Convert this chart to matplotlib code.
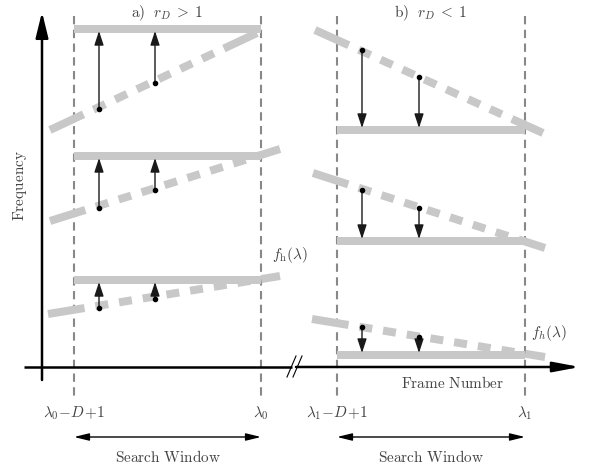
import numpy as np
import matplotlib.pyplot as plt

plt.rcParams['mathtext.fontset'] = 'cm'
plt.rcParams['font.family'] = ['DejaVu Serif']

# --- diagram geometry (pixel space of the original figure, y downwards) ---
win_a = [74, 261]          # search window, panel a
win_b = [337, 525]         # search window, panel b
arrow_x_a = [99, 155]
arrow_x_b = [362, 419]

# horizontal (target) lines per row
target_y_a = [29, 156, 280]
target_y_b = [130, 241, 355]

# sloped dashed trend lines: (x0, y0, x1, y1)
trend_a = [(50, 130, 257, 33), (50, 221, 280, 149), (48, 314, 280, 276)]
trend_b = [(315, 30, 543, 133), (313, 173, 545, 248), (312, 319, 545, 357)]

# arrow start points (dots) per row, one per arrow_x
start_y_a = [[109, 83], [208, 190], [308, 299]]
start_y_b = [[50, 77], [190, 208], [327, 337]]

win_labels_a = [r'$\lambda_0\!-\!D\!+\!1$', r'$\lambda_0$']
win_labels_b = [r'$\lambda_1\!-\!D\!+\!1$', r'$\lambda_1$']

GRAY = '#c8c8c8'
TXT = '#444444'
PX = 0.72  # points per pixel at dpi 100

fig = plt.figure(figsize=(5.94, 4.67), dpi=100)
ax = fig.add_axes([0, 0, 1, 1])
ax.set_xlim(0, 594)
ax.set_ylim(467, 0)
ax.axis('off')

band_lw = 8 * PX


def dash_seq(length, lw, first=37, dash=13, gap=11, min_last=18):
    # long dash at both ends, regular dashes in between
    seq = [first]
    rest = length - first
    while rest > gap + dash + gap + min_last:
        seq += [gap, dash]
        rest -= gap + dash
    seq += [gap, rest - gap + 5, 50]
    return (0, tuple(v * PX / lw for v in seq))


def panel(win, targets, trends, arrow_x, starts, labels, title):
    # window boundaries
    for x in win:
        ax.plot([x, x], [16, 400], color='#888888', lw=1.5,
                linestyle=(0, (4, 2.6)), zorder=1)
    for ty, tr, sy in zip(targets, trends, starts):
        ax.plot(win, [ty, ty], color=GRAY, lw=band_lw,
                solid_capstyle='butt', zorder=2)
        seg_len = np.hypot(tr[2] - tr[0], tr[3] - tr[1])
        ax.plot([tr[0], tr[2]], [tr[1], tr[3]], color=GRAY, lw=band_lw,
                dash_capstyle='butt', linestyle=dash_seq(seg_len, band_lw),
                zorder=2)
        for x, y0 in zip(arrow_x, sy):
            ax.annotate('', xy=(x, ty + (2 if y0 > ty else -2)), xytext=(x, y0),
                        arrowprops=dict(arrowstyle='-|>,head_length=0.85,head_width=0.28',
                                        color='#1a1a1a', lw=1.0, mutation_scale=10,
                                        shrinkA=0, shrinkB=0), zorder=4)
            ax.plot(x, y0, 'o', color='k', ms=3.0, zorder=5)
    # window labels
    ax.text(win[0], 413, labels[0], ha='center', va='center', fontsize=11, color=TXT)
    ax.text(win[1], 413, labels[1], ha='center', va='center', fontsize=11, color=TXT)
    ax.annotate('', xy=(win[0], 437), xytext=(win[1], 437),
                arrowprops=dict(arrowstyle='<|-|>,head_length=0.9,head_width=0.22',
                                color='k', lw=1.0, mutation_scale=10,
                                shrinkA=0, shrinkB=0))
    mid = (win[0] + win[1]) / 2
    ax.text(mid, 457, r'$\mathrm{Search\ Window}$', ha='center', va='center',
            fontsize=11, color=TXT)
    ax.text(mid, 13, title, ha='center', va='center', fontsize=11, color=TXT)


panel(win_a, target_y_a, trend_a, arrow_x_a, start_y_a, win_labels_a,
      r'$\mathrm{a)}\ \ r_D\;>\;1$')
panel(win_b, target_y_b, trend_b, arrow_x_b, start_y_b, win_labels_b,
      r'$\mathrm{b)}\ \ r_D\;<\;1$')

# axes
ax.annotate('', xy=(42, 12), xytext=(42, 380),
            arrowprops=dict(arrowstyle='-|>,head_length=1.55,head_width=0.38',
                            color='k', lw=1.8, mutation_scale=10,
                            shrinkA=0, shrinkB=0), zorder=6)
ax.plot([24, 292], [367, 367], color='k', lw=1.8, solid_capstyle='butt', zorder=6)
ax.annotate('', xy=(580, 367), xytext=(296, 367),
            arrowprops=dict(arrowstyle='-|>,head_length=1.6,head_width=0.3',
                            color='k', lw=1.8, mutation_scale=10,
                            shrinkA=0, shrinkB=0), zorder=6)
for dx in [0, 6]:
    ax.plot([287 + dx, 296 + dx], [377, 356], color='k', lw=0.8, zorder=7)

ax.text(20, 185, r'$\mathrm{Frequency}$', rotation=90, ha='center', va='center',
        fontsize=11, color=TXT)
ax.text(453, 383, r'$\mathrm{Frame\ Number}$', ha='center', va='center',
        fontsize=11, color=TXT)
ax.text(272, 255, r'$f_{\mathrm{h}}(\lambda)$', ha='left', va='center',
        fontsize=11, color=TXT)
ax.text(531, 333, r'$f_h(\lambda)$', ha='left', va='center',
        fontsize=11, color=TXT)

fig.savefig('out.png', dpi=100)
